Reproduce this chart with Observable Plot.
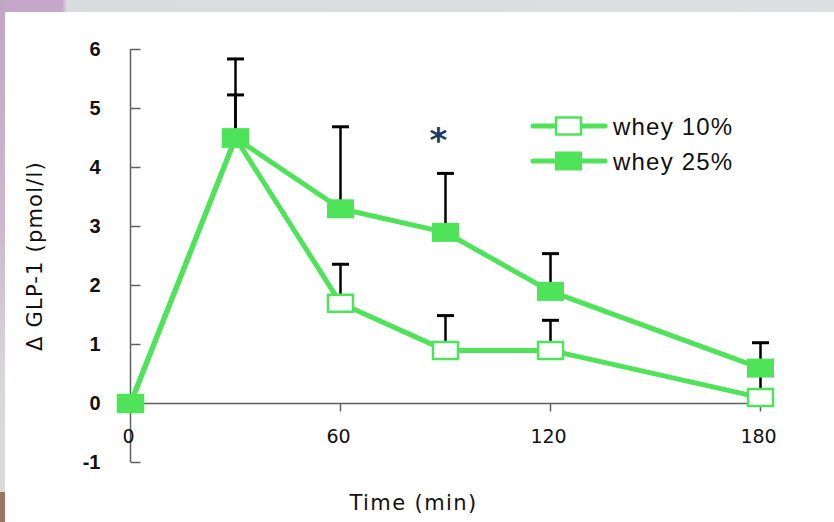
<!DOCTYPE html>
<html><head><meta charset="utf-8">
<script src="https://cdn.jsdelivr.net/npm/d3@7"></script>
<script src="https://cdn.jsdelivr.net/npm/@observablehq/plot@0.6"></script>
<style>
html,body{margin:0;padding:0;background:#fff;}
#wrap{position:relative;width:834px;height:522px;overflow:hidden;background:#fff;}
#top{position:absolute;left:0;top:0;width:834px;height:12px;background:linear-gradient(to right,#c4a7c9 0,#c4a7c9 62px,#d9dcdc 67px,#dde0e0 100%);}
#left{position:absolute;left:0;top:0;width:5px;height:492px;background:linear-gradient(to bottom,#c3a5c7 0%,#cbb8cd 45%,#d9d9d9 80%,#dadada 100%);}
#brown{position:absolute;left:0;top:492px;width:5px;height:30px;background:#9c7461;}
#chart{position:absolute;left:5px;top:12px;}
#legend{position:absolute;left:0;top:0;pointer-events:none;}
</style></head>
<body><div id="wrap"><div id="top"></div><div id="left"></div><div id="brown"></div><div id="chart"></div><svg id="legend" width="834" height="522"></svg></div>
<script>
// ---- data ----
const times = [0, 30, 60, 90, 120, 180];
const whey10 = [0, 4.5, 1.7, 0.9, 0.9, 0.1];
const whey25 = [0, 4.5, 3.3, 2.9, 1.9, 0.6];
const whey10Err = [null, 0.73, 0.66, 0.59, 0.51, 0.45];
const whey25Err = [null, 1.34, 1.39, 1.0, 0.64, 0.43];
const seriesNames = ["whey 10%", "whey 25%"];
const xTicks = [0, 60, 120, 180];
const yTicks = [-1, 0, 1, 2, 3, 4, 5, 6];
const sigNotes = [{time: 88, value: 4.45, label: "*"}];
const xLabel = "Time (min)";
const yLabel = "\u0394 GLP-1 (pmol/l)";

// ---- build table ----
const rows = [];
[[whey10, whey10Err], [whey25, whey25Err]].forEach(([vals, errs], s) => {
  times.forEach((t, i) => rows.push({series: seriesNames[s], time: t, value: vals[i], err: errs[i]}));
});
const rowsErr = rows.filter(d => d.err != null);
const rows10 = rows.filter(d => d.series === seriesNames[0]);
const rows25 = rows.filter(d => d.series === seriesNames[1]);

const green = "#4fe35a";
const axisColor = "#606060";

// custom symbols
const tickRight = {draw(c){ c.moveTo(0,0); c.lineTo(10,0); }};
const tickDown = {draw(c){ c.moveTo(0,0); c.lineTo(0,8); }};
const cap = {draw(c){ c.moveTo(-8.5,0); c.lineTo(8.5,0); }};
const boxFilled = {draw(c){ c.rect(-13.5,-9.5,27,19); }};
const boxOpen = {draw(c){ c.rect(-12.5,-8.5,25,17); }};

const chart = Plot.plot({
  width: 829, height: 510,
  marginLeft: 125, marginRight: 74, marginTop: 37, marginBottom: 60,
  x: {domain: [0, 180], axis: null},
  y: {domain: [d3.min(yTicks), d3.max(yTicks)], axis: null},
  style: {background: "white", overflow: "visible"},
  marks: [
    Plot.ruleX([0], {y1: d3.min(yTicks), y2: d3.max(yTicks), stroke: axisColor, strokeWidth: 1.5}),
    Plot.dot(yTicks, {x: 0, y: d => d, symbol: tickRight, stroke: axisColor, strokeWidth: 1.5}),
    Plot.text(yTicks, {x: 0, y: d => d, text: d => String(d), textAnchor: "end", dx: -30, fontSize: 20, fontWeight: "bold", fontFamily: "Liberation Sans, Arial, sans-serif", fill: "#111"}),
    Plot.ruleY([0], {x1: 0, x2: d3.max(xTicks), insetRight: -3, stroke: axisColor, strokeWidth: 1.5}),
    Plot.dot(xTicks.filter(d => d > 0), {x: d => d, y: 0, symbol: tickDown, stroke: axisColor, strokeWidth: 1.5}),
    Plot.text(xTicks, {x: d => d, y: 0, text: d => String(d), dy: 33, dx: -2, fontSize: 19, fontFamily: "DejaVu Sans, sans-serif", fill: "#111"}),
    Plot.line(rows, {x: "time", y: "value", z: "series", stroke: green, strokeWidth: 5, strokeLinejoin: "round"}),
    Plot.ruleX(rowsErr, {x: "time", y1: "value", y2: d => d.value + d.err, stroke: "#000", strokeWidth: 2.5}),
    Plot.dot(rowsErr, {x: "time", y: d => d.value + d.err, symbol: cap, stroke: "#000", strokeWidth: 3}),
    Plot.dot(rows10, {x: "time", y: "value", symbol: boxOpen, fill: "white", stroke: green, strokeWidth: 2.5}),
    Plot.dot(rows25, {x: "time", y: "value", symbol: boxFilled, fill: green, stroke: "none"}),
    Plot.text(sigNotes, {x: "time", y: "value", text: "label", fontSize: 34, fontWeight: "bold", fontFamily: "DejaVu Sans, sans-serif", fill: "#1d3a6b"}),
    Plot.text([yLabel], {text: d => d, frameAnchor: "left", textAnchor: "middle", lineAnchor: "middle", rotate: -90, dx: -95, fontSize: 21, fontFamily: "DejaVu Sans, sans-serif", fill: "#111"}),
    Plot.text([xLabel], {text: d => d, frameAnchor: "bottom", textAnchor: "middle", lineAnchor: "middle", dx: -32, dy: 41, fontSize: 21, fontFamily: "DejaVu Sans, sans-serif", fill: "#111"})
  ]
});
d3.select(chart).selectAll("text").filter(function(){ return this.textContent === yLabel; }).attr("letter-spacing", "1.2px");
d3.select(chart).selectAll("text").filter(function(){ return this.textContent === xLabel; }).attr("letter-spacing", "1.4px");
document.getElementById("chart").appendChild(chart);

// ---- legend ----
const lg = d3.select("#legend");
seriesNames.forEach((name, i) => {
  const cy = 126 + 35 * i;
  const g = lg.append("g");
  g.append("line").attr("x1", 533).attr("x2", 605).attr("y1", cy).attr("y2", cy)
    .attr("stroke", green).attr("stroke-width", 5).attr("stroke-linecap", "round");
  if (i === 0) {
    g.append("rect").attr("x", 556).attr("y", cy - 8.5).attr("width", 25).attr("height", 17)
      .attr("fill", "white").attr("stroke", green).attr("stroke-width", 2.5);
  } else {
    g.append("rect").attr("x", 555).attr("y", cy - 9.5).attr("width", 27).attr("height", 19).attr("fill", green);
  }
  g.append("text").attr("x", 613).attr("y", cy + 9).text(name)
    .attr("font-family", "Liberation Sans, Arial, sans-serif").attr("font-size", 24)
    .attr("letter-spacing", "1.2px").attr("fill", "#111");
});
</script>
</body></html>
